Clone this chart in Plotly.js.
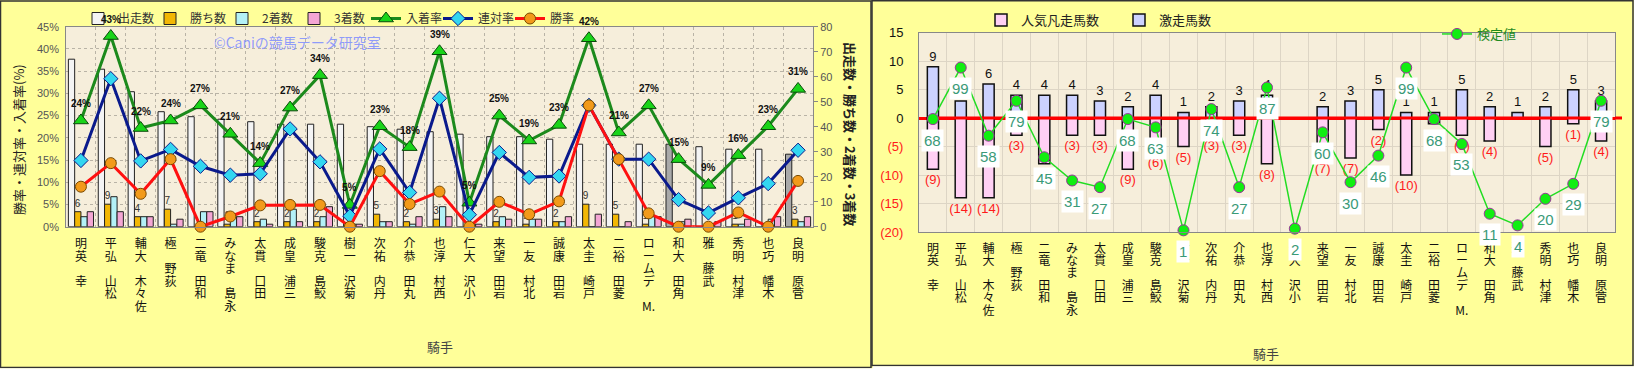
<!DOCTYPE html>
<html>
<head>
<meta charset="utf-8">
<script src="https://cdn.plot.ly/plotly-3.0.1.min.js"></script>
<style>html,body{margin:0;padding:0;background:#fff;}#chart{width:1634px;height:369px;}</style>
</head>
<body>
<div id="chart"></div>
<script>
// ---------- data ----------
const jockeys = ['幸 英明','松山 弘平','佐々木 大輔','荻野 極','和田 竜二','永島 まなみ','田口 貫太','三浦 皇成','鮫島 克駿','菊沢 一樹','丹内 祐次','丸田 恭介','西村 淳也','小沢 大仁','岩田 望来','北村 友一','岩田 康誠','戸崎 圭太','菱田 裕二','M. デムーロ','角田 大和','武藤 雅','津村 明秀','木幡 巧也','菅原 明良'];
const starts  = [67,63,54,46,44,43,42,41,41,41,40,39,38,37,36,36,35,33,33,33,33,32,31,31,29];
const wins    = [6,9,4,7,0,1,2,2,2,0,5,2,3,0,2,1,2,9,5,1,0,0,1,0,3];
const seconds = [4,12,4,1,6,4,3,7,4,1,2,1,8,1,4,3,2,0,0,4,2,1,1,3,2];
const thirds  = [6,6,4,3,6,4,1,2,8,1,2,4,4,1,3,3,4,5,2,4,3,2,3,4,4];
const winRate      = [0.090,0.143,0.074,0.152,0.000,0.023,0.048,0.049,0.049,0.000,0.125,0.051,0.079,0.000,0.056,0.028,0.057,0.273,0.152,0.030,0.000,0.000,0.032,0.000,0.103];
const rentaiRate   = [0.149,0.333,0.148,0.174,0.136,0.116,0.119,0.220,0.146,0.024,0.175,0.077,0.289,0.027,0.167,0.111,0.114,0.273,0.152,0.152,0.061,0.031,0.065,0.097,0.172];
const nyuchakuRate = [0.239,0.429,0.222,0.239,0.273,0.209,0.143,0.268,0.341,0.049,0.226,0.179,0.3947,0.054,0.250,0.194,0.229,0.424,0.212,0.273,0.152,0.094,0.161,0.226,0.310];
const highlighted = ['角田 大和','菅原 明良'];

const hotRuns  = [9,3,6,4,4,4,3,2,4,1,2,3,4,0,2,3,5,1,1,5,2,1,2,5,3];     // 激走馬数
const flopRuns = [9,14,14,3,8,3,3,9,6,5,3,3,8,0,7,7,2,10,1,3,4,0,5,1,4];  // 人気凡走馬数
const kentei   = [68,99,58,79,45,31,27,68,63,1,74,27,87,2,60,30,46,99,68,53,11,4,20,29,79];
const rightTicks = [-20,-15,-10,-5,0,5,10,15];

// ---------- helpers ----------
const W = 1634, H = 369;
const px = x => x / W;
const py = y => 1 - y / H;
const JP = '"Noto Sans CJK JP", "Noto Sans", sans-serif';
const NUM = '"Liberation Sans", Arial, sans-serif';

// vertical (bottom-to-top) name labels: last character on top
function verticalName(name) {
  const tokens = name.match(/[A-Za-z.]+|\s|[^\sA-Za-z.]/g).reverse();
  return tokens.map(t => t === ' ' ? '\u00a0' : '<span style="font-size:12px">' + t + '</span>').join('<br>');
}
const nameTicks = jockeys.map(verticalName);

const startColors = jockeys.map(n => highlighted.includes(n) ? '#a9a9a9' : '#f4f4f4');
const barLine = {color: '#222', width: 1};

// ---------- traces ----------
const traces = [
  {type: 'bar', name: '出走数', x: jockeys, y: starts, xaxis: 'x', yaxis: 'y',
   marker: {color: startColors, line: barLine}, hoverinfo: 'skip'},
  {type: 'bar', name: '勝ち数', x: jockeys, y: wins, xaxis: 'x', yaxis: 'y',
   marker: {color: '#f2b705', line: barLine},
   text: wins.map(v => v > 0 ? String(v) : ''), textposition: 'outside', constraintext: 'none', cliponaxis: false,
   textfont: {family: NUM, size: 10, color: '#333'}, hoverinfo: 'skip'},
  {type: 'bar', name: '2着数', x: jockeys, y: seconds, xaxis: 'x', yaxis: 'y',
   marker: {color: '#b3f1f7', line: barLine}, hoverinfo: 'skip'},
  {type: 'bar', name: '3着数', x: jockeys, y: thirds, xaxis: 'x', yaxis: 'y',
   marker: {color: '#f4a6d4', line: barLine}, hoverinfo: 'skip'},
  {type: 'scatter', mode: 'lines+markers', name: '入着率', x: jockeys, y: nyuchakuRate, xaxis: 'x', yaxis: 'y2',
   line: {color: '#1c8a1c', width: 3},
   marker: {symbol: 'triangle-up', size: 13, color: '#19d419', line: {color: '#0a4a0a', width: 1}},
   cliponaxis: false, hoverinfo: 'skip'},
  {type: 'scatter', mode: 'lines+markers', name: '連対率', x: jockeys, y: rentaiRate, xaxis: 'x', yaxis: 'y2',
   line: {color: '#0a1a8c', width: 3},
   marker: {symbol: 'diamond', size: 11, color: '#33d6f0', line: {color: '#0a1a8c', width: 1}},
   cliponaxis: false, hoverinfo: 'skip'},
  {type: 'scatter', mode: 'lines+markers', name: '勝率', x: jockeys, y: winRate, xaxis: 'x', yaxis: 'y2',
   line: {color: '#ff1010', width: 3},
   marker: {symbol: 'circle', size: 11, color: '#f29a1a', line: {color: '#7a4a00', width: 1}},
   cliponaxis: false, hoverinfo: 'skip'},

  // right chart
  {type: 'bar', name: '人気凡走馬数', legend: 'legend2', x: jockeys, y: flopRuns.map(v => -v), xaxis: 'x2', yaxis: 'y3',
   width: 0.4, offset: -0.2, marker: {color: '#ffd0f4', line: {color: '#111', width: 1.5}},
   text: flopRuns.map(v => v > 0 ? '(' + v + ')' : ''), textposition: 'outside', constraintext: 'none', cliponaxis: false,
   textfont: {family: NUM, size: 13, color: '#ff1a1a'}, hoverinfo: 'skip'},
  {type: 'bar', name: '激走馬数', legend: 'legend2', x: jockeys, y: hotRuns, xaxis: 'x2', yaxis: 'y3',
   width: 0.4, offset: -0.2, marker: {color: '#ccd2ff', line: {color: '#111', width: 1.5}},
   text: hotRuns.map(v => v > 0 ? String(v) : ''), textposition: 'outside', constraintext: 'none', cliponaxis: false,
   textfont: {family: NUM, size: 13, color: '#111'}, hoverinfo: 'skip'},
  {type: 'scatter', mode: 'lines', x: [jockeys[0], jockeys[jockeys.length - 1]], y: [0, 0], xaxis: 'x2', yaxis: 'y3',
   line: {color: '#ff0000', width: 3}, showlegend: false, hoverinfo: 'skip'},
  {type: 'scatter', mode: 'lines+markers', name: '検定値', legend: 'legend3', x: jockeys, y: kentei, xaxis: 'x2', yaxis: 'y4',
   line: {color: '#22dd22', width: 1.5},
   marker: {symbol: 'circle', size: 11, color: '#11ee11', line: {color: '#993399', width: 1}},
   cliponaxis: false, hoverinfo: 'skip'}
];

// ---------- annotations ----------
const annotations = [];
jockeys.forEach((n, i) => annotations.push({xref: 'x', yref: 'y2', x: n, y: nyuchakuRate[i], yshift: 17,
  xanchor: 'center', yanchor: 'middle',
  text: '<b>' + Math.round(nyuchakuRate[i] * 100) + '%</b>', showarrow: false,
  font: {family: NUM, size: 10, color: '#111'}}));
jockeys.forEach((n, i) => annotations.push({xref: 'x2', yref: 'y4', x: n, y: kentei[i], yshift: -21,
  xanchor: 'center', yanchor: 'middle',
  text: String(kentei[i]), showarrow: false, bgcolor: '#ffffff', borderpad: 2,
  font: {family: NUM, size: 15, color: '#3a9a78'}}));
const paperText = (x, y, text, opts) => Object.assign({xref: 'paper', yref: 'paper', x: px(x), y: py(y),
  xanchor: 'center', yanchor: 'middle', text: text, showarrow: false}, opts);
annotations.push(
  paperText(18, 140, '勝率・連対率・入着率(%)', {textangle: -90, font: {family: JP, size: 13, color: '#222'}}),
  paperText(851, 134, '<b>出走数・勝ち数・2着数・3着数</b>', {textangle: 90, font: {family: JP, size: 13, color: '#222'}}),
  paperText(440, 346, '騎手', {font: {family: JP, size: 13, color: '#444'}}),
  paperText(1266, 353, '騎手', {font: {family: JP, size: 13, color: '#444'}}),
  paperText(297, 42, '©Caniの競馬データ研究室', {font: {family: JP, size: 14, color: 'rgba(125,140,255,0.85)'}})
);

const grid = '#b9b3a6';
const nCat = jockeys.length;
const layout = {
  width: W, height: H, margin: {l: 0, r: 0, t: 0, b: 0},
  paper_bgcolor: '#ffff99', plot_bgcolor: '#f6eedb',
  barmode: 'group', bargap: 0.16, bargroupgap: 0,
  showlegend: true,
  legend: {orientation: 'h', x: px(78), y: py(4), xanchor: 'left', yanchor: 'top', bgcolor: 'rgba(0,0,0,0)',
    entrywidth: 27, font: {family: JP, size: 12, color: '#333'}, traceorder: 'normal'},
  legend2: {orientation: 'h', x: px(981), y: py(5), xanchor: 'left', yanchor: 'top', bgcolor: 'rgba(0,0,0,0)',
    entrywidth: 93, font: {family: JP, size: 13, color: '#222'}, traceorder: 'normal'},
  legend3: {orientation: 'h', x: px(1437), y: py(19), xanchor: 'left', yanchor: 'top', bgcolor: 'rgba(0,0,0,0)',
    font: {family: JP, size: 13, color: '#1f8a1f'}},
  xaxis: {domain: [px(66), px(813)], anchor: 'y', type: 'category', categoryarray: jockeys, categoryorder: 'array',
    range: [-0.5, nCat - 0.5], autorange: false,
    tickmode: 'array', tickvals: jockeys, ticktext: nameTicks, ticklabelstandoff: 9,
    tickfont: {family: JP, size: 9.6, color: '#111'},
    tickson: 'boundaries', showgrid: true, gridcolor: grid, griddash: 'dot', gridwidth: 1,
    ticks: '', showline: true, linecolor: '#888', mirror: true},
  yaxis: {domain: [py(226.7), py(26.7)], anchor: 'x', side: 'right', range: [0, 80], dtick: 10,
    ticks: 'outside', ticklen: 4, tickcolor: '#888', showgrid: false, zeroline: false,
    showline: true, linecolor: '#888', mirror: true,
    tickfont: {family: NUM, size: 11, color: '#555'}},
  yaxis2: {overlaying: 'y', anchor: 'x', side: 'left', range: [0, 0.45], dtick: 0.05, tickformat: '.0%',
    showgrid: true, gridcolor: grid, griddash: 'dot', zeroline: false, ticks: '', ticklabelstandoff: 6,
    tickfont: {family: NUM, size: 11, color: '#555'}},
  xaxis2: {domain: [px(919), px(1615)], anchor: 'y3', type: 'category', categoryarray: jockeys, categoryorder: 'array',
    range: [-0.5, nCat - 0.5], autorange: false,
    tickmode: 'array', tickvals: jockeys, ticktext: nameTicks, ticklabelstandoff: 8,
    tickfont: {family: JP, size: 9.6, color: '#111'},
    tickson: 'boundaries', showgrid: true, gridcolor: '#ddd5c5', gridwidth: 1,
    ticks: '', showline: true, linecolor: '#888', mirror: true},
  yaxis3: {domain: [py(232), py(32.7)], anchor: 'x2', range: [-20, 15],
    tickvals: rightTicks,
    ticktext: rightTicks.map(v => v < 0 ? '<span style="color:#ff1a1a">(' + (-v) + ')</span>' : String(v)),
    showgrid: true, gridcolor: '#ddd5c5', zeroline: true, zerolinecolor: '#ff0000', zerolinewidth: 3,
    showline: true, linecolor: '#888', mirror: true, ticks: '', ticklabelstandoff: 12,
    tickfont: {family: NUM, size: 13, color: '#111'}},
  yaxis4: {overlaying: 'y3', anchor: 'x2', range: [0, 120], visible: false},
  shapes: [
    {type: 'rect', xref: 'paper', yref: 'paper', x0: px(0.5), x1: px(871), y0: py(367.5), y1: py(1),
     line: {color: '#333', width: 1.5}, fillcolor: 'rgba(0,0,0,0)'},
    {type: 'rect', xref: 'paper', yref: 'paper', x0: px(872), x1: px(1633), y0: py(365.5), y1: py(0.7),
     line: {color: '#333', width: 1.5}, fillcolor: 'rgba(0,0,0,0)'},
    {type: 'rect', xref: 'paper', yref: 'paper', x0: 0, x1: 1, y0: 0, y1: py(368.3),
     line: {width: 0}, fillcolor: '#ffffff'},
    {type: 'rect', xref: 'paper', yref: 'paper', x0: px(872.8), x1: 1, y0: 0, y1: py(366.3),
     line: {width: 0}, fillcolor: '#ffffff'},
    {type: 'line', xref: 'paper', yref: 'y3', x0: px(1615), x1: px(1622), y0: 0, y1: 0,
     line: {color: '#ff0000', width: 3}}
  ],
  annotations: annotations
};

Plotly.newPlot('chart', traces, layout, {staticPlot: true, displayModeBar: false});
</script>
</body>
</html>
